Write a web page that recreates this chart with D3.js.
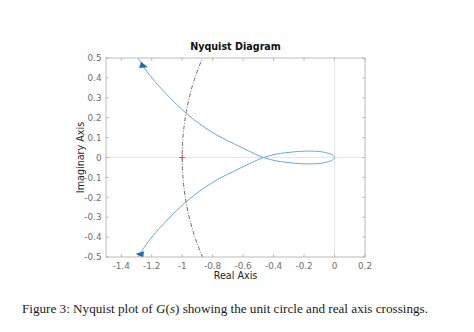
<!DOCTYPE html>
<html>
<head>
<meta charset="utf-8">
<script src="https://cdn.jsdelivr.net/npm/d3@7"></script>
<style>
  html, body { margin: 0; padding: 0; background: #fff; }
  svg { display: block; }
</style>
</head>
<body>
<svg id="chart" width="474" height="332"></svg>
<script>
// Nyquist locus of G(jw) for w >= 0, traced from the origin
const reG = [0, -0.012, -0.061, -0.10, -0.148, -0.20, -0.258, -0.32, -0.389, -0.466,
             -0.542, -0.652, -0.762, -0.871, -0.980, -1.090, -1.199, -1.265, -1.29];
const imG = [0, 0.012, 0.025, 0.030, 0.032, 0.032, 0.029, 0.024, 0.016, 0,
             -0.025, -0.066, -0.108, -0.161, -0.226, -0.308, -0.400, -0.469, -0.5];

// direction markers on the two branches (real, imag)
const arrowRe = [-1.254, -1.276];
const arrowIm = [0.460, -0.486];

// critical point
const critRe = -1, critIm = 0;

const xTicks = [-1.4, -1.2, -1, -0.8, -0.6, -0.4, -0.2, 0, 0.2];
const yTicks = [-0.5, -0.4, -0.3, -0.2, -0.1, 0, 0.1, 0.2, 0.3, 0.4, 0.5];

const svg = d3.select("#chart");
const L = 106, R = 365, T = 58, B = 257;

const x = d3.scaleLinear().domain([-1.5, 0.2]).range([L, R]);
const y = d3.scaleLinear().domain([-0.5, 0.5]).range([B, T]);

const font = "'DejaVu Sans', sans-serif";
const axisGray = "#b4b4b4";
const labelGray = "#6e6e6e";
const fmt = v => String(v);

svg.append("defs").append("clipPath").attr("id", "plotClip")
  .append("rect").attr("x", L).attr("y", T).attr("width", R - L).attr("height", B - T);

// zero lines
svg.append("line").attr("x1", L).attr("x2", R).attr("y1", y(0)).attr("y2", y(0))
  .attr("stroke", "#e2e2e2").attr("stroke-width", 0.9);
svg.append("line").attr("x1", x(0)).attr("x2", x(0)).attr("y1", T).attr("y2", B)
  .attr("stroke", "#e2e2e2").attr("stroke-width", 0.9);

const plot = svg.append("g").attr("clip-path", "url(#plotClip)");

// unit circle
plot.append("ellipse")
  .attr("cx", x(0)).attr("cy", y(0))
  .attr("rx", x(1) - x(0)).attr("ry", y(0) - y(1))
  .attr("fill", "none").attr("stroke", "#5a5a5a").attr("stroke-width", 0.9)
  .attr("stroke-dasharray", "4,1.6,1,1.6");

// full locus: negative frequencies (conjugate, reversed) then positive frequencies
const pos = reG.map((r, i) => [r, imG[i]]);
const neg = pos.slice(1).reverse().map(([r, im]) => [r, -im]);
const locus = neg.concat(pos);

plot.append("path")
  .datum(locus)
  .attr("d", d3.line().x(d => x(d[0])).y(d => y(d[1])).curve(d3.curveCatmullRom.alpha(0.5)))
  .attr("fill", "none").attr("stroke", "#6aa8d8").attr("stroke-width", 1);

// arrowheads
const arrowRot = [18, 185];
arrowRe.forEach((r, i) => {
  plot.append("path")
    .attr("d", "M4.5,0 L-3.5,-3.3 L-3.5,3.3 Z")
    .attr("transform", `translate(${x(r)},${y(arrowIm[i])}) rotate(${arrowRot[i]})`)
    .attr("fill", "#1c6fb4");
});

// critical point marker
const cx0 = x(critRe), cy0 = y(critIm);
plot.append("path")
  .attr("d", `M${cx0 - 3},${cy0} H${cx0 + 3} M${cx0},${cy0 - 3} V${cy0 + 3}`)
  .attr("stroke", "#e0474c").attr("stroke-width", 0.9);

// axes box
svg.append("rect").attr("x", L).attr("y", T).attr("width", R - L).attr("height", B - T)
  .attr("fill", "none").attr("stroke", axisGray).attr("stroke-width", 0.9);

// inward ticks on all four sides
const tl = 2.6;
xTicks.forEach(v => {
  const px = x(v);
  svg.append("line").attr("x1", px).attr("x2", px).attr("y1", B).attr("y2", B - tl).attr("stroke", axisGray);
  svg.append("line").attr("x1", px).attr("x2", px).attr("y1", T).attr("y2", T + tl).attr("stroke", axisGray);
  svg.append("text").attr("x", px).attr("y", 269)
    .attr("text-anchor", "middle").attr("font-family", font).attr("font-size", 8.8)
    .attr("fill", labelGray).text(fmt(v));
});
yTicks.forEach(v => {
  const py = y(v);
  svg.append("line").attr("x1", L).attr("x2", L + tl).attr("y1", py).attr("y2", py).attr("stroke", axisGray);
  svg.append("line").attr("x1", R).attr("x2", R - tl).attr("y1", py).attr("y2", py).attr("stroke", axisGray);
  svg.append("text").attr("x", L - 4.5).attr("y", py + 3.2)
    .attr("text-anchor", "end").attr("font-family", font).attr("font-size", 8.8)
    .attr("fill", labelGray).text(fmt(v));
});

// title and axis labels
svg.append("text").attr("x", (L + R) / 2).attr("y", 50)
  .attr("text-anchor", "middle").attr("font-family", font).attr("font-size", 9.6)
  .attr("font-weight", "bold").attr("fill", "#111").text("Nyquist Diagram");
svg.append("text").attr("x", (L + R) / 2).attr("y", 279)
  .attr("text-anchor", "middle").attr("font-family", font).attr("font-size", 9.6)
  .attr("fill", "#262626").text("Real Axis");
svg.append("text")
  .attr("transform", `translate(84,${(T + B) / 2}) rotate(-90)`)
  .attr("text-anchor", "middle").attr("font-family", font).attr("font-size", 9.6)
  .attr("fill", "#262626").text("Imaginary Axis");

// caption
const cap = svg.append("text").attr("x", 22).attr("y", 313)
  .attr("font-family", "'Liberation Serif', 'Times New Roman', serif").attr("font-size", 12.6)
  .attr("fill", "#1a1a1a").attr("textLength", 406).attr("lengthAdjust", "spacingAndGlyphs");
cap.append("tspan").text("Figure 3: Nyquist plot of ");
cap.append("tspan").attr("font-style", "italic").text("G");
cap.append("tspan").text("(");
cap.append("tspan").attr("font-style", "italic").text("s");
cap.append("tspan").text(") showing the unit circle and real axis crossings.");
</script>
</body>
</html>
